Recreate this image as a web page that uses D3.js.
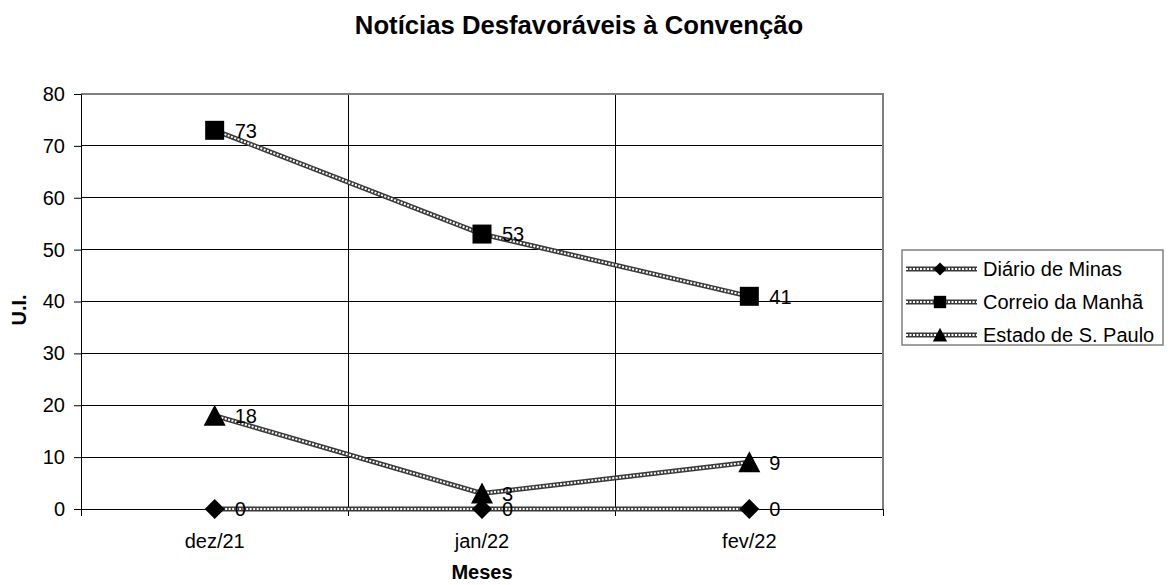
<!DOCTYPE html>
<html><head><meta charset="utf-8">
<script src="https://cdn.jsdelivr.net/npm/d3@7"></script>
<style>body{margin:0;background:#fff;} text{font-family:"Liberation Sans",Arial,sans-serif;}</style>
</head><body>
<svg id="c" width="1168" height="585"></svg>
<script>
const categories = ["dez/21", "jan/22", "fev/22"];
const seriesNames = ["Diário de Minas", "Correio da Manhã", "Estado de S. Paulo"];
const diarioMinas = [0, 0, 0];
const correioManha = [73, 53, 41];
const estadoSPaulo = [18, 3, 9];
const yTicks = [0, 10, 20, 30, 40, 50, 60, 70, 80];
const markerTypes = ["diamond", "square", "triangle"];

const series = [diarioMinas, correioManha, estadoSPaulo].map((v, i) => ({name: seriesNames[i], values: v, marker: markerTypes[i]}));

const svg = d3.select("#c");
const L = 81, R = 883, T = 94, B = 509;
const x = d3.scaleBand().domain(categories).range([L, R]);
const y = d3.scaleLinear().domain([0, 80]).range([B, T]);
const cx = c => x(c) + x.bandwidth() / 2;
const FONT = "Liberation Sans, Arial, sans-serif";

// gridlines
svg.append("g").selectAll("line").data(yTicks.filter(t => t > 0)).join("line")
  .attr("x1", L).attr("x2", R).attr("y1", d => y(d)).attr("y2", d => y(d))
  .attr("stroke", "#000").attr("stroke-width", 1).attr("shape-rendering", "crispEdges");
svg.append("g").selectAll("line").data(categories.slice(1)).join("line")
  .attr("x1", d => x(d)).attr("x2", d => x(d)).attr("y1", T).attr("y2", B)
  .attr("stroke", "#000").attr("stroke-width", 1).attr("shape-rendering", "crispEdges");
svg.append("path").attr("d", `M${L},${T}H${R}V${B}`).attr("fill", "none")
  .attr("stroke", "#808080").attr("stroke-width", 2).attr("shape-rendering", "crispEdges");

// y axis
const yAxis = d3.axisLeft(y).tickValues(yTicks).tickSize(7).tickPadding(9).tickFormat(d3.format("d"));
const gy = svg.append("g").attr("transform", `translate(${L},0)`).call(yAxis);
gy.select(".domain").attr("stroke", "#000");
gy.selectAll("text").attr("font-size", 20).attr("fill", "#000").style("font-family", FONT);

// x axis
const xAxis = d3.axisBottom(x).tickSize(0).tickPadding(25);
const gx = svg.append("g").attr("transform", `translate(0,${B})`).call(xAxis);
gx.select(".domain").attr("stroke", "#000");
gx.selectAll("text").attr("font-size", 20).attr("fill", "#000").style("font-family", FONT);
svg.append("g").selectAll("line").data([...categories.map(c => x(c)), R]).join("line")
  .attr("x1", d => d).attr("x2", d => d).attr("y1", B).attr("y2", B + 7)
  .attr("stroke", "#000").attr("shape-rendering", "crispEdges");

// lines
const line = d3.line().x((d, i) => cx(categories[i])).y(d => y(d));
function chainLine(g, d) {
  g.append("path").attr("d", d).attr("fill", "none").attr("stroke", "#3a3a3a").attr("stroke-width", 5);
  g.append("path").attr("d", d).attr("fill", "none").attr("stroke", "#fff").attr("stroke-width", 2)
    .attr("stroke-dasharray", "2,1.5");
}
function markerPath(type, k) {
  if (type === "diamond") return `M0,${-10*k}L${10*k},0L0,${10*k}L${-10*k},0Z`;
  if (type === "square") return `M${-9.5*k},${-9.5*k}h${19*k}v${19*k}h${-19*k}Z`;
  return `M0,${-11*k}L${11*k},${10*k}L${-11*k},${10*k}Z`;
}
series.forEach(s => chainLine(svg.append("g"), line(s.values)));
series.forEach(s => {
  const g = svg.append("g");
  g.selectAll("path.m").data(s.values).join("path").attr("class", "m")
    .attr("d", markerPath(s.marker, 1))
    .attr("transform", (d, i) => `translate(${cx(categories[i])},${y(d)})`)
    .attr("fill", "#000");
  g.selectAll("text").data(s.values).join("text")
    .attr("x", (d, i) => cx(categories[i]) + 20).attr("y", d => y(d))
    .attr("dy", "0.36em").attr("font-size", 20).attr("fill", "#000").text(d => d);
});

// titles
svg.append("text").attr("x", 579).attr("y", 34).attr("text-anchor", "middle")
  .attr("font-size", 25.7).attr("font-weight", "bold").text("Notícias Desfavoráveis à Convenção");
svg.append("text").attr("x", 482).attr("y", 579).attr("text-anchor", "middle")
  .attr("font-size", 20).attr("font-weight", "bold").text("Meses");
svg.append("text").attr("transform", "translate(26,310) rotate(-90)").attr("text-anchor", "middle")
  .attr("font-size", 20).attr("font-weight", "bold").text("U.I.");

// legend
const lg = svg.append("g");
lg.append("rect").attr("x", 902).attr("y", 250).attr("width", 261).attr("height", 95)
  .attr("fill", "#fff").attr("stroke", "#808080").attr("stroke-width", 1.5);
series.forEach((s, i) => {
  const yy = [269, 302, 335][i];
  const g = lg.append("g");
  chainLine(g, `M906,${yy}H977`);
  g.append("path").attr("d", markerPath(s.marker, 0.65)).attr("transform", `translate(940,${yy})`).attr("fill", "#000");
  g.append("text").attr("x", 983).attr("y", yy).attr("dy", "0.36em").attr("font-size", 20).text(s.name);
});
</script>
</body></html>
